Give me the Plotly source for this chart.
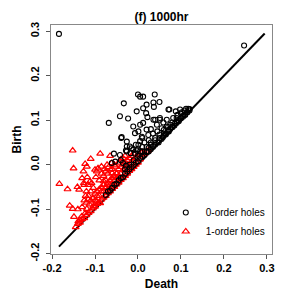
import plotly.graph_objects as go

# 0-order holes (black circles): Death, Birth
h0_death = [-0.184, 0.247,
    0.000, 0.005, 0.012, 0.039, -0.033, -0.003, 0.012, 0.020, 0.019, 0.036, 0.037, 0.050,
    -0.042, -0.023, -0.068, 0.022, 0.040, 0.051, 0.073, 0.088, 0.098, 0.117, 0.067, 0.082, 0.090,
    0.036, 0.044, 0.051, 0.059, 0.067, 0.071,
    -0.011, -0.007, 0.001, 0.005, 0.012, 0.020, 0.024,
    -0.039, -0.026, -0.019, -0.011, -0.026, -0.042, -0.056, -0.053, -0.061,
    0.030, 0.035, 0.045, 0.055, 0.060, 0.070, 0.075, 0.080, 0.085, 0.095, 0.100, 0.105, 0.110, 0.115, 0.120,
    0.010, 0.015, 0.025, 0.030, 0.040, 0.050, 0.048, 0.058, 0.065, 0.072,
    -0.005, 0.000, 0.005, 0.010, 0.020, 0.025, 0.035,
    -0.038, -0.026, -0.028, -0.015, -0.017, -0.007, -0.003, 0.001, 0.005, 0.009, -0.040, -0.035, -0.028,
    -0.075, -0.070, -0.065, -0.060, -0.055, -0.050, -0.045, -0.040, -0.035, -0.030, -0.025, -0.020, -0.015,
    -0.010, -0.005, 0.000, 0.005, 0.010, 0.015, 0.020, 0.025, 0.030, 0.035, 0.040, 0.045, 0.050, 0.055,
    0.060, 0.065, 0.070, 0.075, 0.080, 0.085, 0.090, 0.095, 0.100, 0.105, 0.110, 0.115, 0.120,
    -0.030, -0.020, -0.010, 0.000, 0.010, 0.020, 0.030, 0.040, 0.050, 0.060, 0.070, 0.080, 0.090, 0.100,
    0.092, 0.102, 0.108, 0.112]
h0_birth = [0.294, 0.268,
    0.158, 0.153, 0.153, 0.158, 0.138, 0.120, 0.127, 0.135, 0.116, 0.140, 0.130, 0.141,
    0.109, 0.104, 0.094, 0.107, 0.101, 0.101, 0.124, 0.120, 0.124, 0.126, 0.101, 0.105, 0.097,
    0.101, 0.090, 0.105, 0.095, 0.086, 0.124,
    0.086, 0.071, 0.075, 0.090, 0.094, 0.079, 0.067,
    0.060, 0.052, 0.041, 0.034, 0.030, 0.022, 0.025, 0.007, 0.004,
    0.080, 0.070, 0.075, 0.082, 0.070, 0.078, 0.090, 0.085, 0.092, 0.100, 0.105, 0.110, 0.112, 0.118, 0.125,
    0.060, 0.050, 0.055, 0.045, 0.055, 0.060, 0.050, 0.062, 0.068, 0.075,
    0.045, 0.035, 0.030, 0.040, 0.030, 0.038, 0.042,
    0.062, 0.041, 0.032, 0.037, 0.026, 0.025, 0.032, 0.045, 0.053, 0.063, 0.010, 0.004, -0.002,
    -0.068, -0.060, -0.058, -0.052, -0.045, -0.042, -0.035, -0.030, -0.028, -0.020, -0.015, -0.010, -0.005,
    0.000, 0.005, 0.008, 0.015, 0.018, 0.022, 0.028, 0.030, 0.035, 0.040, 0.045, 0.050, 0.055, 0.058,
    0.065, 0.070, 0.074, 0.080, 0.084, 0.088, 0.094, 0.098, 0.104, 0.108, 0.113, 0.118, 0.122,
    -0.010, 0.000, 0.010, 0.020, 0.030, 0.040, 0.050, 0.060, 0.068, 0.078, 0.085, 0.095, 0.105, 0.115,
    0.112, 0.118, 0.122, 0.126]

# 1-order holes (red triangles): Death, Birth
h1_death = [-0.183, -0.152, -0.150, -0.164, -0.141, -0.137, -0.123, -0.119, -0.127, -0.110, -0.100, -0.096,
    -0.093, -0.088, -0.065, -0.061, -0.053, -0.118, -0.112, -0.116, -0.108, -0.104,
    -0.159, -0.152, -0.149, -0.139, -0.135, -0.131, -0.123, -0.119, -0.113, -0.104, -0.096, -0.088,
    -0.130, -0.125, -0.120, -0.115, -0.110, -0.105, -0.100, -0.095, -0.090, -0.085, -0.080, -0.075,
    -0.070, -0.065, -0.060, -0.055, -0.050, -0.045, -0.040, -0.035, -0.030, -0.025, -0.020, -0.015, -0.010,
    -0.145, -0.140, -0.135, -0.130, -0.125, -0.120, -0.115, -0.110, -0.105, -0.100, -0.095, -0.090, -0.085,
    -0.080, -0.075, -0.070, -0.065, -0.060, -0.055, -0.050, -0.045, -0.040, -0.035, -0.030, -0.025, -0.020,
    -0.015, -0.010, -0.005, 0.000, 0.005,
    -0.140, -0.130, -0.125, -0.120, -0.110, -0.100, -0.095, -0.090, -0.085, -0.080, -0.075, -0.070, -0.065,
    -0.060, -0.055, -0.050, -0.045, -0.040, -0.035, -0.030, -0.025, -0.020, -0.015, -0.010, -0.005, 0.005,
    0.010, 0.015, 0.024, 0.009,
    -0.098, -0.090, -0.085, -0.080, -0.078, -0.075, -0.070, -0.068, -0.060, -0.055, -0.045, -0.040, -0.035,
    -0.030, -0.126, -0.085, -0.072, -0.064, -0.060, -0.057, -0.049, -0.080, -0.072, -0.122, -0.116]
h1_birth = [-0.043, 0.032, -0.008, -0.055, -0.050, -0.056, 0.002, -0.004, -0.015, 0.013, -0.011, -0.015,
    -0.008, 0.025, 0.020, 0.004, -0.004, -0.028, -0.038, -0.045, -0.041, -0.052,
    -0.092, -0.099, -0.117, -0.127, -0.124, -0.116, -0.109, -0.099, -0.089, -0.093, -0.082, -0.086,
    -0.030, -0.045, -0.060, -0.070, -0.060, -0.075, -0.065, -0.070, -0.055, -0.060, -0.045, -0.050,
    -0.040, -0.035, -0.030, -0.025, -0.020, -0.010, -0.005, 0.000, 0.005, 0.010, 0.015, 0.020, 0.025,
    -0.140, -0.133, -0.130, -0.122, -0.120, -0.113, -0.108, -0.104, -0.098, -0.094, -0.088, -0.085, -0.078,
    -0.074, -0.070, -0.064, -0.060, -0.054, -0.050, -0.044, -0.040, -0.034, -0.030, -0.025, -0.020, -0.014,
    -0.010, -0.005, 0.000, 0.005, 0.012,
    -0.100, -0.095, -0.080, -0.085, -0.080, -0.080, -0.060, -0.070, -0.050, -0.060, -0.035, -0.055, -0.045,
    -0.045, -0.035, -0.030, -0.025, -0.020, -0.012, -0.010, 0.000, -0.005, 0.005, 0.010, 0.015, 0.022,
    0.028, 0.025, 0.032, 0.028,
    -0.028, -0.035, -0.020, -0.025, -0.010, -0.015, -0.020, -0.005, -0.010, 0.000, 0.005, 0.012, 0.015,
    0.020, -0.041, -0.004, 0.000, -0.011, -0.019, -0.026, -0.019, -0.037, -0.045, -0.070, -0.078]

diag = [-0.184, 0.295]
x_ticks = [-0.2, -0.1, 0.0, 0.1, 0.2, 0.3]
x_tick_labels = ["-0.2", "-0.1", "0.0", "0.1", "0.2", "0.3"]
y_ticks = [-0.2, -0.1, 0.0, 0.1, 0.2, 0.3]
y_tick_labels = ["-0.2", "-0.1", "0.0", "0.1", "0.2", "0.3"]

FONT = "Liberation Sans, Arial, Helvetica, sans-serif"

fig = go.Figure()
fig.add_trace(go.Scatter(x=diag, y=diag, mode="lines", line=dict(color="black", width=2),
                         showlegend=False, hoverinfo="skip"))
fig.add_trace(go.Scatter(x=h1_death, y=h1_birth, mode="markers", name="1-order holes",
                         marker=dict(symbol="triangle-up-open", size=6, color="red",
                                     line=dict(width=1.2, color="red"))))
fig.add_trace(go.Scatter(x=h0_death, y=h0_birth, mode="markers", name="0-order holes",
                         marker=dict(symbol="circle-open", size=5, color="black",
                                     line=dict(width=1.1, color="black"))))

axis_common = dict(showgrid=False, zeroline=False, showline=True, mirror=True,
                   linecolor="#888888", linewidth=1, ticks="outside", ticklen=4,
                   tickcolor="#555555", tickwidth=1, automargin=False,
                   tickfont=dict(family=FONT, size=11, color="black", weight="bold"))

fig.update_layout(
    width=298, height=298,
    margin=dict(l=51, r=26, t=25, b=44),
    paper_bgcolor="white", plot_bgcolor="white",
    title=dict(text="<b>(f) 1000hr</b>", x=(51 + 272) / 2 / 298, xanchor="center",
               y=1 - 17 / 298, yanchor="middle",
               font=dict(family=FONT, size=12, color="black")),
    xaxis=dict(range=[-0.2025, 0.312], tickvals=x_ticks, ticktext=x_tick_labels,
               ticklabelstandoff=0,
               title=dict(text="<b>Death</b>", standoff=6,
                          font=dict(family=FONT, size=12, color="black")),
               **axis_common),
    yaxis=dict(range=[-0.2005, 0.314], tickvals=y_ticks, ticktext=y_tick_labels, tickangle=-90,
               ticklabelstandoff=3,
               title=dict(text="<b>Birth</b>", standoff=4,
                          font=dict(family=FONT, size=12, color="black")),
               **axis_common),
    legend=dict(x=0.99, y=0.035, xanchor="right", yanchor="bottom",
                traceorder="reversed", bgcolor="rgba(0,0,0,0)",
                font=dict(family=FONT, size=10, color="black"),
                itemwidth=30, tracegroupgap=0),
)

fig.write_html("out.html", config={"displayModeBar": False},
               post_script="document.body.style.margin='0';document.body.style.overflow='hidden';")
